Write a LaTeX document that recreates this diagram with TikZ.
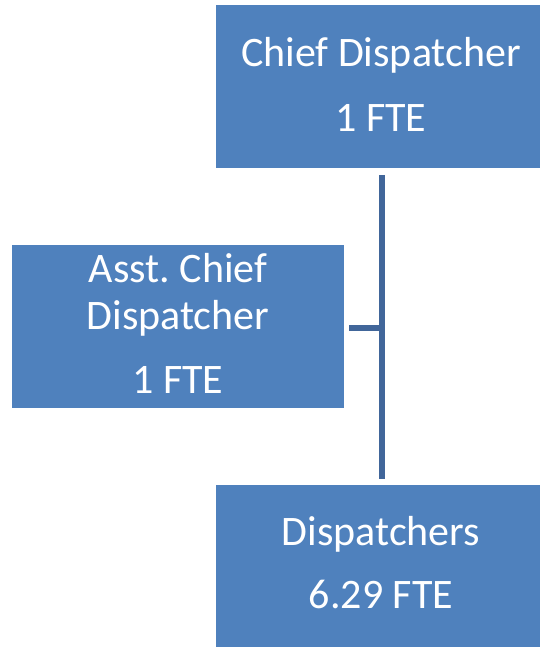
\documentclass[tikz,border=0pt]{standalone}
\usepackage{fontspec}
\setmainfont{Carlito}
\frenchspacing
\definecolor{boxblue}{HTML}{4F81BD}
\definecolor{lineblue}{HTML}{41669A}
\begin{document}
\begin{tikzpicture}[x=1pt,y=1pt,
  orgbox/.style={fill=boxblue,draw=none,inner sep=0pt},
  lbl/.style={text=white,anchor=base,inner sep=0pt,font=\fontsize{42}{50}\selectfont},
  conn/.style={draw=lineblue,line width=6pt}]
\useasboundingbox (0,0) rectangle (540,647);
\node[orgbox,minimum width=324pt,minimum height=163pt,anchor=south west] (chief) at (216,479) {};
\node[orgbox,minimum width=332pt,minimum height=163pt,anchor=south west] (asst) at (12,239) {};
\node[orgbox,minimum width=324pt,minimum height=162pt,anchor=south west] (disp) at (216,0) {};
\node[lbl] (t1) at (381,580) {Chief Dispatcher};
\node[lbl] (t2) at (381,515) {1 FTE};
\node[lbl] (a1) at (178,364) {Asst.\ Chief};
\node[lbl] (a2) at (178,317) {Dispatcher};
\node[lbl] (a3) at (178,253) {1 FTE};
\node[lbl] (d1) at (381,101) {Dispatchers};
\node[lbl] (d2) at (381,38) {6.29 FTE};
\coordinate (vtop) at (382,472);
\coordinate (vbot) at (382,168);
\coordinate (hj) at (382,319);
\coordinate (hl) at (349,319);
\draw[conn] (vtop) -- (vbot);
\draw[conn] (hl) -- (hj);
\end{tikzpicture}
\end{document}
